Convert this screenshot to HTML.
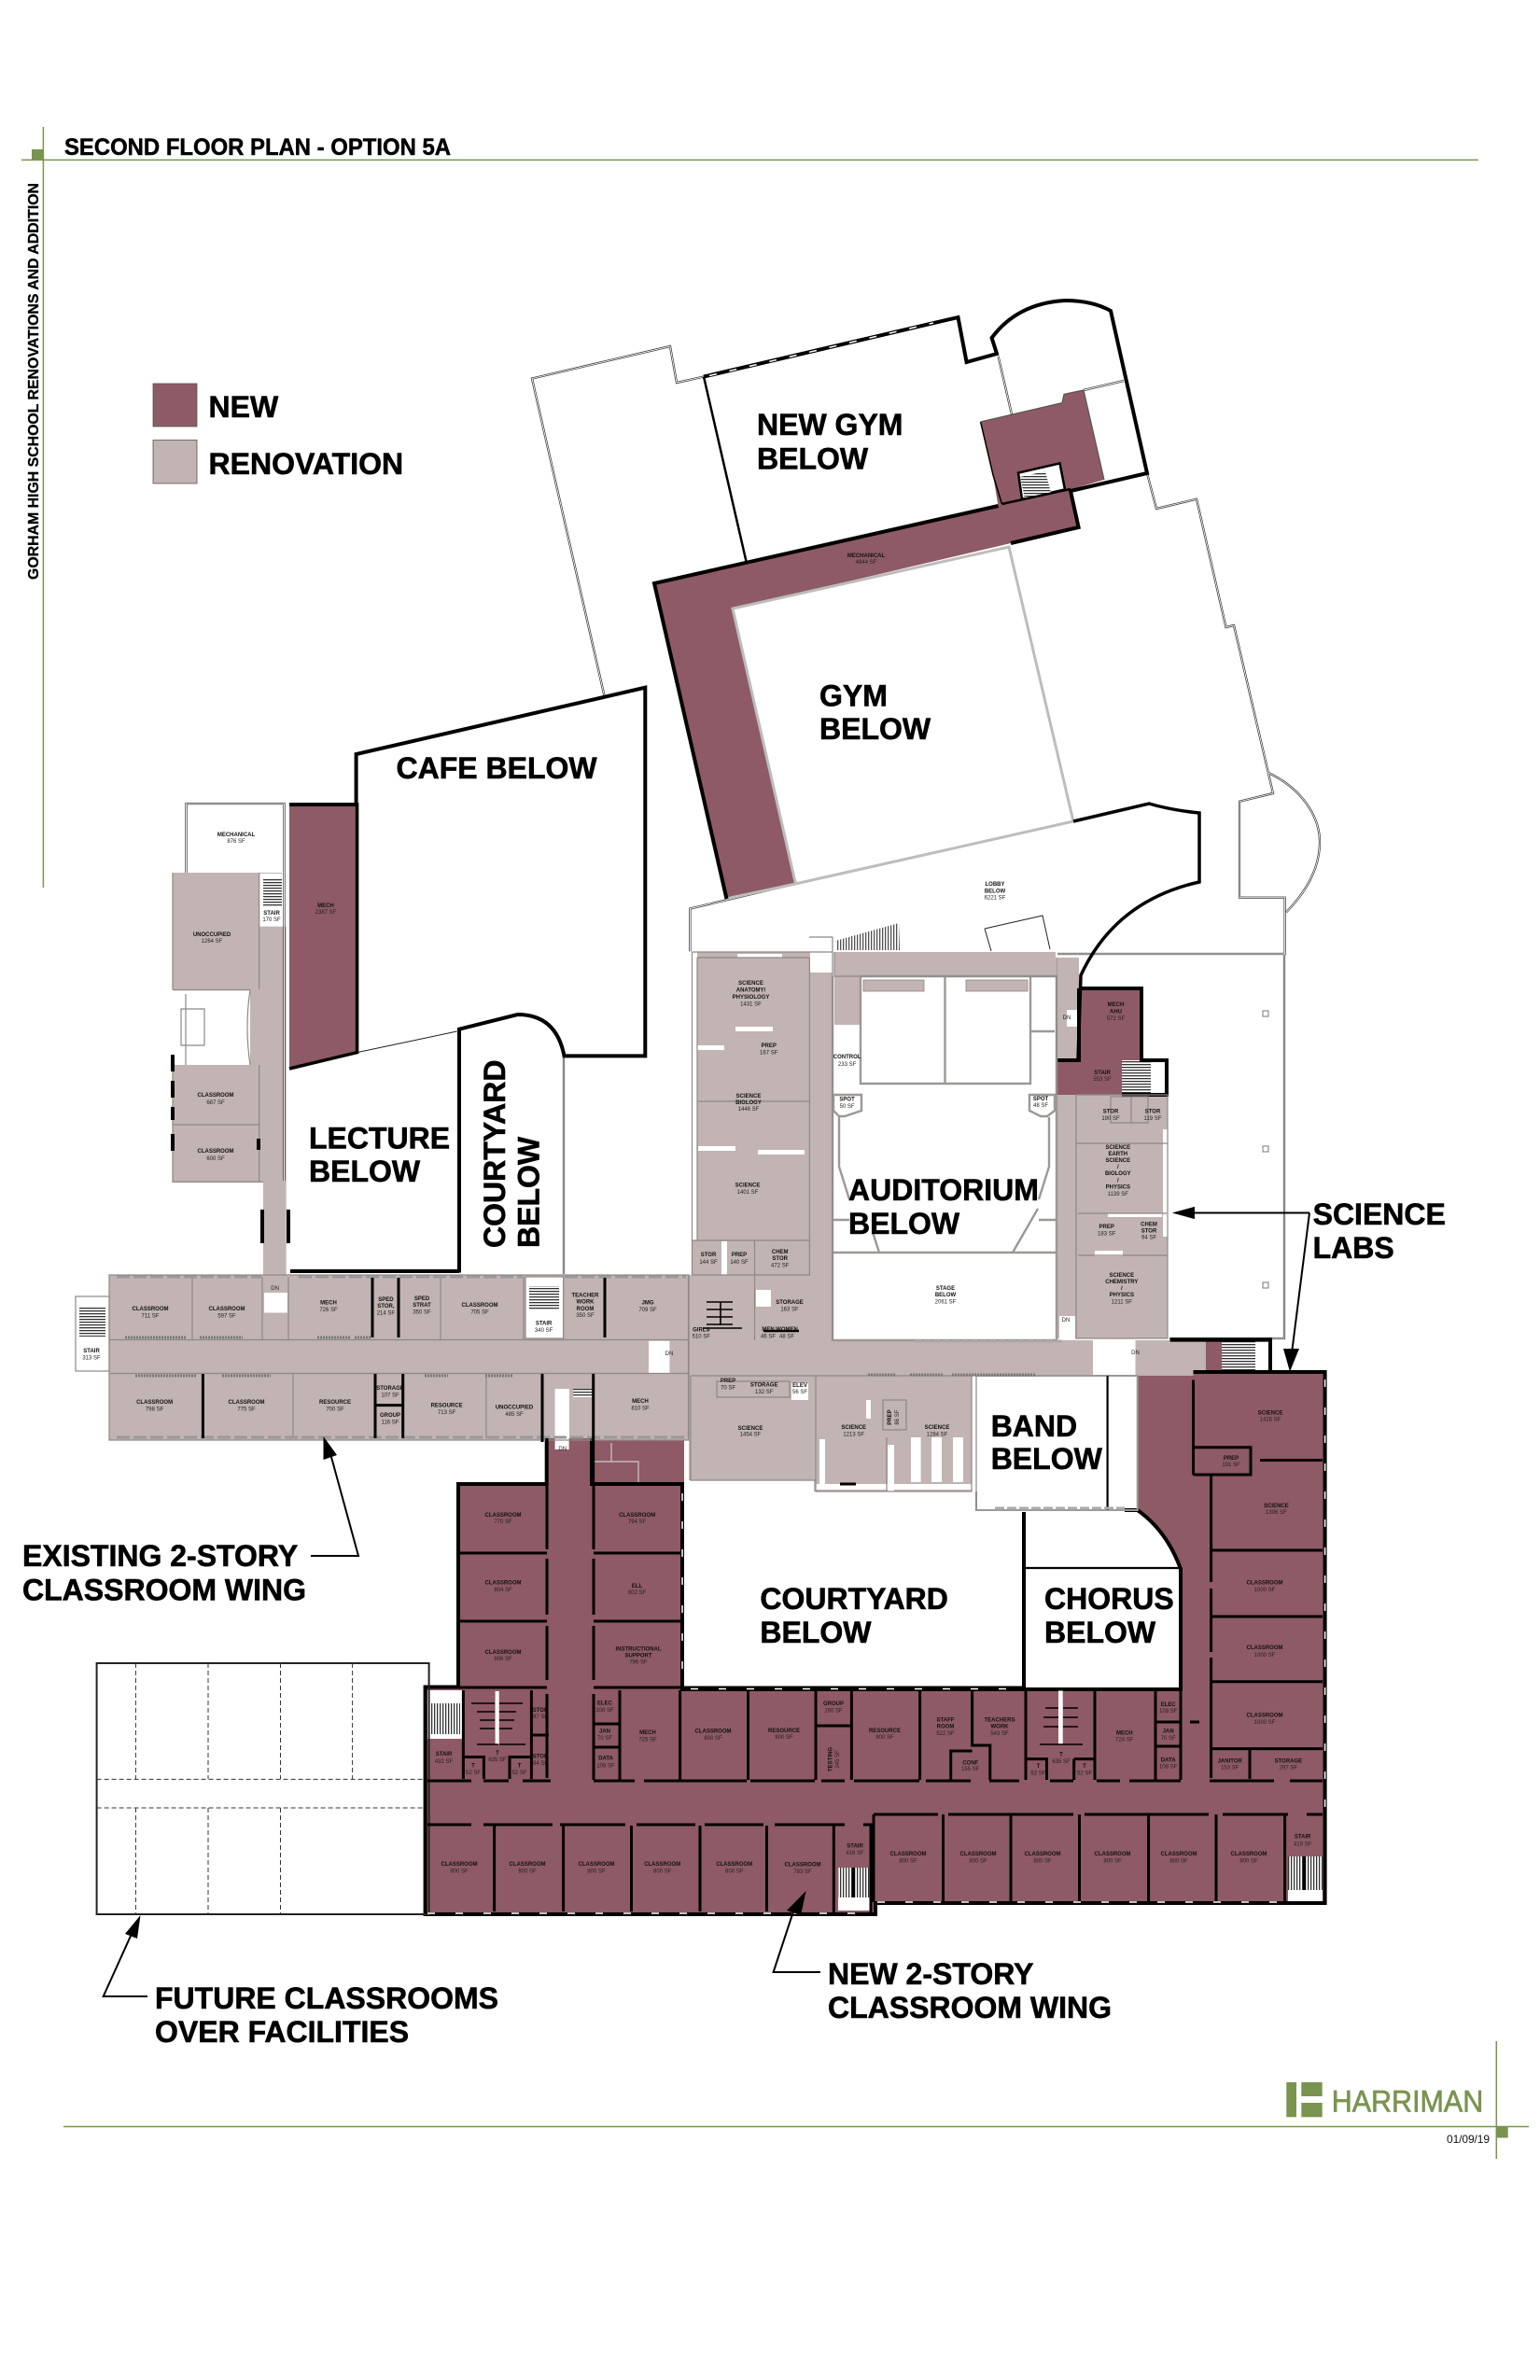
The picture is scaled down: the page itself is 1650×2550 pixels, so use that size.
<!DOCTYPE html>
<html><head><meta charset="utf-8"><title>Second Floor Plan - Option 5A</title>
<style>
html,body{margin:0;padding:0;background:#fff}
svg{display:block}
text{font-family:"Liberation Sans",Arial,sans-serif}
.b{font-size:32px;font-weight:bold;fill:#000;stroke:#000;stroke-width:.6px}
.n{font-size:6px;font-weight:bold;fill:#111;text-anchor:middle}
.a{font-size:6px;fill:#222;text-anchor:middle}
.w{fill:none;stroke:#000;stroke-width:4;stroke-linejoin:miter}
.g{fill:none;stroke:#8e8886;stroke-width:1.2}
.l{fill:none;stroke:#000;stroke-width:2.2}
.l3{fill:none;stroke:#000;stroke-width:3}
.wh{fill:#fff}
</style></head><body>
<svg xmlns="http://www.w3.org/2000/svg" width="1650" height="2550" viewBox="0 0 1650 2550">
<defs>
<pattern id="tr" width="6" height="3" patternUnits="userSpaceOnUse"><rect width="6" height="3" fill="#fff"/><rect width="6" height="1.3" fill="#333"/></pattern>
<pattern id="tv" width="3" height="6" patternUnits="userSpaceOnUse"><rect width="3" height="6" fill="#fff"/><rect width="1.3" height="6" fill="#333"/></pattern>
<g id="thin" fill="none">
<path d="M647.6 746L570 405.6L718 371L725 410L754 403.6"/>
<path d="M1229 507L1239 545L1282 534.7L1313.5 672L1322 670L1364 850L1328 858.7V961.7H1376.6V1022H1133"/>
<path d="M1359 828C1395 845 1414 875 1414 902C1414 930 1400 955 1378 977.5"/>
<path d="M739.4 1019.4V973.5L852 947"/>
<path d="M1376 1022V1434H1253"/>
<path d="M1161 418L1204 408"/>
<path d="M1069.5 381.6L1084 444"/>
<path d="M604 1131V1365"/>
<path d="M199.5 935V861H304.5V1265"/>
</g>
</defs>

<!-- frame -->
<g stroke="#7a9450" fill="none" stroke-width="1.5">
<path d="M23 171.4H1584"/><path d="M46.4 136V951"/>
<path d="M68 2278.5H1638"/><path d="M1603.3 2187V2313"/>
</g>
<rect x="34" y="160" width="12" height="11" fill="#7a9450"/>
<rect x="1604" y="2279" width="11.7" height="11.5" fill="#7a9450"/>
<text x="69" y="166" font-size="25" font-weight="bold" stroke="#000" stroke-width=".5" textLength="414" lengthAdjust="spacingAndGlyphs">SECOND FLOOR PLAN - OPTION 5A</text>
<text transform="translate(41,621) rotate(-90)" font-size="16" font-weight="bold" stroke="#000" stroke-width=".3" textLength="425" lengthAdjust="spacingAndGlyphs">GORHAM HIGH SCHOOL RENOVATIONS AND ADDITION</text>

<!-- legend -->
<rect x="164" y="411" width="47" height="46" fill="#8e5a65" stroke="#555" stroke-width=".8"/>
<rect x="164" y="471.5" width="47" height="46.5" fill="#c1b4b2" stroke="#555" stroke-width=".8"/>
<text class="b" x="223.5" y="447">NEW</text>
<text class="b" x="223.5" y="508">RENOVATION</text>

<!-- renovation fills -->
<g fill="#c1b4b2">
<path d="M185 935H302V992.7H306.7V1366H282V1266.4H185V1141H268V1060.6H185Z"/>
<rect x="117" y="1366" width="621" height="177"/>
<rect x="738" y="1366" width="134" height="220"/>
<rect x="741.5" y="1020" width="150" height="416"/>
<rect x="718" y="1436" width="573" height="38"/>
<rect x="872" y="1474" width="169.5" height="124"/>
<rect x="894" y="1020" width="237" height="26"/>
<rect x="894" y="1046" width="28" height="52"/>
<rect x="1132" y="1026" width="24" height="110"/>
<rect x="1132" y="1173" width="119" height="261"/>
</g>
<!-- white holes in renovation -->
<g class="wh">
<rect x="277.7" y="936" width="24.5" height="56.7"/>
<rect x="283" y="1385" width="25" height="21.5"/>
<rect x="563" y="1368" width="40.6" height="66"/>
<rect x="81" y="1389" width="36" height="80"/>
<rect x="695" y="1436.7" width="22.4" height="34.3"/>
<rect x="594.6" y="1488" width="15.4" height="64.5"/>
<rect x="1171" y="1436" width="45.5" height="38"/>
<rect x="868" y="1004" width="24" height="38"/>
<rect x="742" y="1020" width="5" height="309"/>
<rect x="1143" y="1082" width="13" height="18"/>
<rect x="1135" y="1410" width="17" height="24"/>
<rect x="848" y="1482" width="18" height="18"/>
<rect x="810" y="1382" width="16" height="18"/>
<rect x="894" y="1098" width="28" height="68"/>
<rect x="976" y="1540" width="10.6" height="48"/>
<rect x="998" y="1540" width="11" height="48"/>
<rect x="1021" y="1540" width="11" height="48"/>
<rect x="928" y="1500" width="5" height="20"/>
<rect x="951" y="1548" width="7" height="50"/>
<rect x="878" y="1542" width="6" height="50"/>
<rect x="874" y="1590" width="167" height="6"/>
<rect x="788" y="1100" width="40" height="5"/>
<rect x="742" y="1120" width="34" height="5"/>
<rect x="748" y="1228" width="40" height="5"/>
<rect x="812" y="1232" width="50" height="5"/>
<rect x="790" y="1022" width="48" height="4"/>
<rect x="1187" y="1300" width="58" height="4"/>
<rect x="1173" y="1340" width="30" height="6"/>
<rect x="1246" y="1210" width="5" height="115"/>
<rect x="773" y="1330" width="6" height="36"/>
</g>
<!-- stair treads -->
<rect x="282" y="942" width="20" height="30" fill="url(#tr)"/>
<rect x="85" y="1400" width="28" height="32" fill="url(#tr)"/>
<rect x="567" y="1378" width="32" height="26" fill="url(#tr)"/>
<rect x="614" y="1488" width="20" height="9" fill="url(#tr)"/>
<path d="M895 1008L963 989L964 1018H897Z" fill="url(#tv)" opacity=".85"/>

<!-- maroon fills -->
<g fill="#8e5a65">
<path d="M310 862H382.6V1127.6L310 1145Z"/>
<path d="M701 625L1069.5 542L1064 509L1050.6 452L1138 431.6L1140 422.4L1161 418L1183 514L1147 524.5L1155.6 565L1083 582L785 652L852.5 947L778.5 963Z"/>
<path d="M588 1541H634V1543H733V1590H731V1810H1265V1681Q1250 1640 1218.7 1618V1474H1278.5V1470H1419.6V2039H938V2051H455.6V1807.5H491V1590H586V1541Z"/>
<rect x="1156" y="1059" width="67" height="77"/>
<rect x="1132" y="1136" width="70" height="37"/>
<rect x="1291.5" y="1436" width="18" height="34"/>
</g>
<!-- maroon whites and stairs -->
<path d="M1091 506.6L1135.5 496.4L1141 524.5L1095 534.7Z" fill="#fff" stroke="#000" stroke-width="2.5"/>
<path d="M1093 511L1120 505L1126 528L1098 534Z" fill="url(#tr)"/>
<rect x="458" y="1811" width="38" height="52" fill="#fff"/>
<rect x="461" y="1825" width="32" height="33" fill="url(#tv)"/>
<rect x="898" y="2001" width="33.6" height="44" fill="url(#tv)"/>
<rect x="1380" y="1989" width="37" height="46" fill="url(#tv)"/>
<rect x="913" y="2001" width="3" height="38" fill="#000"/>
<rect x="1396" y="1989" width="3" height="38" fill="#000"/>
<rect x="898" y="2033" width="34" height="14" fill="#fff"/>
<rect x="1380" y="2025" width="37" height="12" fill="#fff"/>
<rect x="1202" y="1136" width="31" height="37" fill="url(#tr)"/>
<rect x="1233" y="1136" width="17" height="37" fill="#fff"/>
<rect x="1309" y="1436" width="36" height="34" fill="url(#tr)"/>
<rect x="1345" y="1436" width="16" height="34" fill="#fff"/>
<rect x="594.6" y="1541" width="15" height="12" fill="#fff"/>
<path d="M655 1546V1566M637 1566H684V1590" stroke="#c9b8bb" stroke-width="1.4" fill="none"/>

<!-- thin double outlines -->
<use href="#thin" stroke="#222" stroke-width="2.2"/>
<use href="#thin" stroke="#fff" stroke-width=".9"/>
<path d="M382.6 1127.6L489.7 1105" stroke="#222" stroke-width="1" fill="none"/>
<path d="M1055 995L1117 981L1125 1017M1055 995L1062 1019" stroke="#222" stroke-width="1" fill="none"/>
<rect x="1353" y="1083" width="6" height="6" fill="none" stroke="#777"/>
<rect x="1353" y="1228" width="6" height="6" fill="none" stroke="#777"/>
<rect x="1353" y="1374" width="6" height="6" fill="none" stroke="#777"/>

<!-- gym inner grey walls -->
<path d="M778 963L852.5 947L785 652L1081 586L1150 880L852 947" fill="none" stroke="#bdbdbd" stroke-width="3"/>

<!-- thick black building outlines -->
<g class="w">
<path d="M754 403.6L1026.5 340L1035.6 388L1068 379L1062.6 362Q1090 325 1141 322Q1170 322 1190 333L1229 507L1147 526L1155.6 565L1083 582"/>
<path d="M754 403.6L800 603.6" stroke-width="2.5"/>
<path d="M1069.5 542L701 625L778.5 963"/>
<path d="M1073.5 540L1147 524" stroke-width="2.5"/>
<path d="M1050.6 452L1064 509L1073.5 540" stroke-width="1.5"/>
<path d="M1050.6 452L1138 431.6L1140 422.4L1161 418L1183 514" stroke="#555" stroke-width="1.2"/>
<path d="M1150 880L1231 861Q1255 868 1285 871V945Q1195 965 1158 1045L1155 1136" stroke-width="3.5"/>
<path d="M310 862H381.6V808L691.3 736.7V1131.4H604.5Q596 1087 554.5 1087L492 1102.7V1363.5"/>
<path d="M382.6 860V1127.6L310 1145" stroke-width="3.5"/>
<path d="M311 1362H492" stroke-width="4"/>
<path d="M1156 1059H1223V1136H1250V1173H1202M1156 1059V1136H1132"/>
<path d="M1253.6 1435.6H1361V1470"/>
<path d="M1278.5 1470H1419.6V2039H938V2051H455.6V1807.5H491V1590H585.7V1541M634 1541V1590H731V1810H1097V1620"/>
<path d="M1097 1810H1265V1681Q1250 1640 1218.7 1618H1205"/>
</g>
<path d="M760 402.5L1000 346" stroke="#fff" stroke-width="1.5" stroke-dasharray="8 14" fill="none"/>
<path d="M1097 1680H1264" class="l"/>
<rect x="103.6" y="1782" width="356" height="269" fill="none" stroke="#222" stroke-width="2"/>
<g stroke="#333" stroke-width="1" stroke-dasharray="5 3" fill="none">
<path d="M145.4 1782V1906M223 1782V1906M300.5 1782V1906M377.6 1782V1906"/>
<path d="M145.4 1937V2051M223 1937V2051M300.5 1937V2051"/>
<path d="M103.6 1906.4H455M103.6 1937H455"/>
</g>
<!-- band walls -->
<path d="M1046 1474H1218.7V1618H1046V1598" fill="none" stroke="#999" stroke-width="2"/>
<path d="M1186.6 1474V1618" class="l"/>
<path d="M1066 1616H1205" stroke="#aaa" stroke-width="3" stroke-dasharray="10 3" fill="none"/>

<!-- auditorium -->
<g fill="none" stroke="#9c9896" stroke-width="2.4">
<path d="M892 1046V1436H1132V1046H922V1161H1104V1046"/>
<path d="M1012.5 1046V1161"/>
<path d="M893 1342H1131"/>
<path d="M1104 1105H1130"/>
<path d="M893 1307H910M1113 1307H1131"/>
<path d="M899 1197V1250L910 1285M1124 1197V1250L1113 1285"/>
<path d="M935 1320L942 1342M1112 1295L1085 1342"/>
<path d="M893 1173H923V1190L905 1196H899L893 1190ZM1103 1173H1130V1190L1122 1196H1115L1103 1190Z"/>
</g>
<g fill="#c1b4b2" stroke="#8e8886" stroke-width=".8">
<rect x="925" y="1050" width="65" height="12"/>
<rect x="1035" y="1050" width="66" height="12"/>
</g>
<path d="M980 1437H1038M1040 1437H1140" stroke="#aaa" stroke-width="3" stroke-dasharray="8 2" fill="none"/>

<!-- renovation walls -->
<g class="g">
<path d="M185 935V1060.6M185 1141V1266.4H282M185 1205H277.7M277.7 1141V1266M185 1060.6H268M277.7 935V1060"/>
<path d="M268 1060.6Q262 1100 268 1141"/>
<path d="M199 1065V1141M194 1081H219V1120H194Z"/>
<rect x="117" y="1366" width="621" height="177"/>
<path d="M117 1435.5H738M117 1471.5H738"/>
<path d="M206 1368V1435M281 1368V1435M309 1368V1435M472 1368V1435M561 1368V1435M603.6 1368V1435M314 1472V1541M521 1472V1541M737.5 1368V1541"/>
<rect x="81" y="1389" width="36" height="80"/>
<rect x="563" y="1368" width="40.6" height="66"/>
<path d="M741.5 1020V1366H867.4V1026M747 1026V1329H867M747 1026H867M747 1180H867M867 1004H892V1436M892 1020H741.5M808.5 1329V1436M741 1329H808M1153 1173V1434H1251V1173H1153M1153 1225H1251M1155 1300H1250M1155 1345H1250M1132 1026V1173M1190 1175H1230V1203H1190ZM1212 1203V1175M894 1020V1046H1131"/>
<path d="M740 1474H1041V1598H874V1586H740V1474M874 1474V1590M950 1598V1540M1041 1474H1046V1618"/>
<path d="M768 1480H846V1497H768ZM946 1500H971V1532H946Z"/>
</g>
<path d="M125 1368H280M320 1368H560M605 1368H735M125 1540H735" stroke="#999" stroke-width="3" stroke-dasharray="14 4" fill="none"/>
<path d="M134 1433H200M214 1433H260M340 1433H375M380 1433H398M145 1474H210M238 1474H290M455 1474H480M520 1474H550M930 1473H960M975 1473H1010M1020 1473H1110" stroke="#777" stroke-width="3" stroke-dasharray="2 1" fill="none"/>
<g class="l">
<path d="M399 1369V1433M427 1369V1433M648 1369V1433M217.4 1472V1541M402 1472V1541M431.7 1472V1541M581 1472V1545M635.7 1472V1590M402 1505.6H431" stroke-width="3"/>
<path d="M185 1130V1200M185 1215V1240M277 1220V1232" stroke-width="4" stroke-dasharray="18 10"/>
<path d="M281 1296V1332M309 1296V1332" stroke-width="4"/>
<path d="M772 1395V1420M757 1395H785M757 1403H785M757 1411H785M757 1419H785" stroke-width="1.6"/>
<path d="M753 1423H795" stroke-width="1.6"/>
<path d="M818 1426H856" stroke-width="2.5"/>
<path d="M900 1590H917" stroke-width="3"/>
</g>

<!-- south wing walls -->
<g class="l3">
<path d="M586 1541V1660M586 1670V1730M586 1742V1800M586 1815V1905"/>
<path d="M636 1590V1660M636 1670V1730M636 1742V1800M636 1815V1907"/>
<path d="M491 1664H586M491 1737H586M491 1808H586M636 1664H731M636 1737H731M636 1808H1097"/>
<path d="M458 1908H505M518 1908H545M560 1908H590M636 1908H680M690 1908H800M804 1908H873M880 1908H905M915 1908H985M992 1908H1040M1060 1908H1092M1125 1908H1150M1175 1908H1200M1210 1908H1265M1296 1908H1365M1382 1908H1417"/>
<path d="M458 1955H505M518 1955H592M600 1955H670M682 1955H745M755 1955H818M830 1955H905M925 1955H936M936 1944H1005M1016 1944H1150M1162 1944H1295M1310 1944H1380M1400 1944H1417"/>
<path d="M529.6 1956V2048M603.6 1956V2048M676.5 1956V2048M750 1956V2048M821.5 1956V2048M893.3 1955V2050M933 1955V2050M936 1944V2038M1010.5 1944V2037M1083 1944V2037M1156.5 1944V2037M1230.6 1944V2037M1303 1944V2037M1376.6 1944V2037"/>
<path d="M664 1811V1907M636 1847H664M636 1872H664M728.6 1811V1907M801.5 1811V1907M874 1811V1907M912.4 1811V1907M874 1849H912.4M985.6 1811V1907M1041.6 1811V1870H1060.8V1907M1018.7 1907V1876H1041.6M1099 1811V1907M1173 1811V1907M1238 1811V1907M1265 1810V1907M1238 1845H1265M1238 1871H1265"/>
<path d="M1100.5 1884.6H1121.5V1907M1150.7 1884.6V1907M1150.7 1884.6H1173"/>
<path d="M496.4 1811V1906M569.4 1811V1906M569.4 1859H588M496.4 1882.5H518.4V1906M546 1906V1882.5H569.4"/>
<path d="M1278.5 1478.5V1580M1278.5 1550.7H1340V1580H1278.5M1350 1564.5H1417M1340 1566V1570M1297.6 1580V1695M1297.6 1702V1770M1297.6 1776V1905"/>
<path d="M1297 1661H1417M1297 1732H1417M1297 1801.7H1417M1297 1873.6H1417M1339 1873.6V1906"/>
<path d="M1275 1845H1285"/>
</g>
<g stroke="#fff" fill="none" stroke-width="1.5" stroke-dasharray="8 22">
<path d="M1419.6 1478V1940"/>
<path d="M731 1600V1800"/>
<path d="M740 1809.5H1090"/>
<path d="M458 2050H930"/>
<path d="M940 2038H1376"/>
</g>
<rect x="530.6" y="1812" width="4.1" height="57" fill="#fff"/>
<rect x="1134" y="1811.5" width="4.7" height="57.5" fill="#fff"/>
<g fill="none" stroke="#000" stroke-width="1.5">
<path d="M505 1825H530M511 1834H530M514 1843H530M514 1852H530M511 1869H534M535 1825H560M535 1834H553M535 1843H551M535 1852H549M535 1869H563"/>
<path d="M1120 1830H1134M1118 1840H1134M1118 1850H1134M1114 1869H1160M1139 1830H1155M1139 1840H1155M1139 1850H1155"/>
</g>

<!-- annotation arrows -->
<g fill="none" stroke="#000" stroke-width="2">
<path d="M1403 1299.5H1280"/><path d="M1403 1299.5L1384 1450"/>
<path d="M333 1667H384L353.6 1556"/>
<path d="M158 2139H110.7L141 2072"/>
<path d="M879 2113H828.6L851 2045"/>
</g>
<g fill="#000">
<path d="M1255.8 1299.5L1280 1292.9V1306.1Z"/>
<path d="M1382 1469.6L1375 1445H1392Z"/>
<path d="M346.5 1539L346.5 1564L361 1559Z"/>
<path d="M150.5 2052L134 2072L147 2077Z"/>
<path d="M863.6 2026L843 2047L858 2052Z"/>
</g>

<!-- big labels -->
<g class="b">
<text x="811" y="466">NEW GYM</text><text x="811" y="502.5">BELOW</text>
<text x="878" y="756.6">GYM</text><text x="878" y="792">BELOW</text>
<text x="424.5" y="834">CAFE BELOW</text>
<text x="331" y="1230.5">LECTURE</text><text x="331" y="1266">BELOW</text>
<text transform="translate(541,1337) rotate(-90)">COURTYARD</text>
<text transform="translate(577.7,1337) rotate(-90)">BELOW</text>
<text x="909" y="1286">AUDITORIUM</text><text x="909" y="1322">BELOW</text>
<text x="1406.6" y="1312">SCIENCE</text><text x="1406.6" y="1348">LABS</text>
<text x="1061.7" y="1538.8">BAND</text><text x="1061.7" y="1574">BELOW</text>
<text x="814.4" y="1723.8">COURTYARD</text><text x="814.4" y="1760">BELOW</text>
<text x="1119" y="1723.8">CHORUS</text><text x="1119" y="1760">BELOW</text>
<text x="24" y="1678">EXISTING 2-STORY</text><text x="24" y="1714.6">CLASSROOM WING</text>
<text x="166" y="2152">FUTURE CLASSROOMS</text><text x="166" y="2188">OVER FACILITIES</text>
<text x="887" y="2126">NEW 2-STORY</text><text x="887" y="2162">CLASSROOM WING</text>
</g>

<!-- small labels: existing wing -->
<g>
<text class="n" x="253" y="896">MECHANICAL</text><text class="a" x="253" y="903">876 SF</text>
<text class="n" x="349" y="972">MECH</text><text class="a" x="349" y="979">2387 SF</text>
<text class="n" x="291" y="980">STAIR</text><text class="a" x="291" y="987">170 SF</text>
<text class="n" x="227" y="1003">UNOCCUPIED</text><text class="a" x="227" y="1010">1264 SF</text>
<text class="n" x="231" y="1175">CLASSROOM</text><text class="a" x="231" y="1183">687 SF</text>
<text class="n" x="231" y="1235">CLASSROOM</text><text class="a" x="231" y="1243">600 SF</text>
<text class="n" x="161" y="1404">CLASSROOM</text><text class="a" x="161" y="1411.5">711 SF</text>
<text class="n" x="243" y="1404">CLASSROOM</text><text class="a" x="243" y="1411.5">597 SF</text>
<text class="n" x="352" y="1397.5">MECH</text><text class="a" x="352" y="1405">726 SF</text>
<text class="n" x="413.4" y="1394">SPED</text><text class="n" x="413.4" y="1401">STOR,</text><text class="a" x="413.4" y="1408.5">214 SF</text>
<text class="n" x="452" y="1393">SPED</text><text class="n" x="452" y="1400">STRAT</text><text class="a" x="452" y="1407.5">350 SF</text>
<text class="n" x="514" y="1400">CLASSROOM</text><text class="a" x="514" y="1407.5">705 SF</text>
<text class="n" x="582.6" y="1419.5">STAIR</text><text class="a" x="582.6" y="1427">340 SF</text>
<text class="n" x="627" y="1389.5">TEACHER</text><text class="n" x="627" y="1396.6">WORK</text><text class="n" x="627" y="1404">ROOM</text><text class="a" x="627" y="1411">350 SF</text>
<text class="n" x="694" y="1397.5">JMG</text><text class="a" x="694" y="1405">709 SF</text>
<text class="n" x="98" y="1449">STAIR</text><text class="a" x="98" y="1456.5">313 SF</text>
<text class="n" x="165.6" y="1504">CLASSROOM</text><text class="a" x="165.6" y="1511.5">798 SF</text>
<text class="n" x="264" y="1504">CLASSROOM</text><text class="a" x="264" y="1511.5">775 SF</text>
<text class="n" x="359" y="1504">RESOURCE</text><text class="a" x="359" y="1511.5">700 SF</text>
<text class="n" x="418" y="1489">STORAGE</text><text class="a" x="418" y="1496.5">107 SF</text>
<text class="n" x="418" y="1518">GROUP</text><text class="a" x="418" y="1525.5">116 SF</text>
<text class="n" x="478.6" y="1507.6">RESOURCE</text><text class="a" x="478.6" y="1515">713 SF</text>
<text class="n" x="551" y="1509.5">UNOCCUPIED</text><text class="a" x="551" y="1517">485 SF</text>
<text class="n" x="686" y="1503">MECH</text><text class="a" x="686" y="1510.5">810 SF</text>
<text class="a" x="294.6" y="1382">DN</text><text class="a" x="602.7" y="1554">DN</text>
<text class="n" x="928" y="597">MECHANICAL</text><text class="a" x="928" y="604">4944 SF</text>
<text class="n" x="1066" y="949">LOBBY</text><text class="n" x="1066" y="956.6">BELOW</text><text class="a" x="1066" y="963.7">6221 SF</text>
<!-- science block -->
<text class="n" x="804.5" y="1055">SCIENCE</text><text class="n" x="804.5" y="1062.5">ANATOMY/</text><text class="n" x="804.5" y="1070">PHYSIOLOGY</text><text class="a" x="804.5" y="1077.5">1431 SF</text>
<text class="n" x="823.7" y="1122">PREP</text><text class="a" x="823.7" y="1129.7">167 SF</text>
<text class="n" x="802" y="1175.8">SCIENCE</text><text class="n" x="802" y="1183">BIOLOGY</text><text class="a" x="802" y="1190">1446 SF</text>
<text class="n" x="801" y="1271.6">SCIENCE</text><text class="a" x="801" y="1279">1401 SF</text>
<text class="n" x="759" y="1346">STOR</text><text class="a" x="759" y="1354">144 SF</text>
<text class="n" x="792" y="1346">PREP</text><text class="a" x="792" y="1354">140 SF</text>
<text class="n" x="835.7" y="1343">CHEM</text><text class="n" x="835.7" y="1350">STOR</text><text class="a" x="835.7" y="1357.5">472 SF</text>
<text class="n" x="846" y="1397">STORAGE</text><text class="a" x="846" y="1404.4">163 SF</text>
<text class="n" x="751.3" y="1426.4">GIRLS</text><text class="a" x="751.3" y="1433.5">510 SF</text>
<text class="n" x="823" y="1426">MEN</text><text class="a" x="823" y="1433.5">46 SF</text>
<text class="n" x="843" y="1426">WOMEN</text><text class="a" x="843" y="1433.5">48 SF</text>
<text class="n" x="907.6" y="1134">CONTROL</text><text class="a" x="907.6" y="1142">233 SF</text>
<text class="n" x="907.6" y="1179.5">SPOT</text><text class="a" x="907.6" y="1187">50 SF</text>
<text class="n" x="1115" y="1179">SPOT</text><text class="a" x="1115" y="1186">48 SF</text>
<text class="n" x="1013" y="1382">STAGE</text><text class="n" x="1013" y="1389">BELOW</text><text class="a" x="1013" y="1396.5">2061 SF</text>
<text class="n" x="1195.5" y="1078">MECH</text><text class="n" x="1195.5" y="1085.7">AHU</text><text class="a" x="1195.5" y="1093">572 SF</text>
<text class="a" x="1143" y="1092">DN</text>
<text class="n" x="1181" y="1151">STAIR</text><text class="a" x="1181" y="1158">553 SF</text>
<text class="n" x="1190" y="1192.4">STOR</text><text class="a" x="1190" y="1200">190 SF</text>
<text class="n" x="1235" y="1192.4">STOR</text><text class="a" x="1235" y="1200">119 SF</text>
<text class="n" x="1197.8" y="1231">SCIENCE</text><text class="n" x="1197.8" y="1238">EARTH</text><text class="n" x="1197.8" y="1245">SCIENCE</text><text class="n" x="1197.8" y="1252">/</text><text class="n" x="1197.8" y="1259">BIOLOGY</text><text class="n" x="1197.8" y="1266.6">/</text><text class="n" x="1197.8" y="1273.7">PHYSICS</text><text class="a" x="1197.8" y="1281">1139 SF</text>
<text class="n" x="1185.7" y="1316">PREP</text><text class="a" x="1185.7" y="1323.5">183 SF</text>
<text class="n" x="1231" y="1313.5">CHEM</text><text class="n" x="1231" y="1320.6">STOR</text><text class="a" x="1231" y="1327.6">94 SF</text>
<text class="n" x="1201.8" y="1368">SCIENCE</text><text class="n" x="1201.8" y="1375">CHEMISTRY</text><text class="n" x="1201.8" y="1382">/</text><text class="n" x="1201.8" y="1389">PHYSICS</text><text class="a" x="1201.8" y="1396.5">1211 SF</text>
<text class="a" x="1142" y="1416">DN</text><text class="a" x="1216.5" y="1451">DN</text><text class="a" x="717" y="1452">DN</text>
<text class="n" x="780" y="1481">PREP</text><text class="a" x="780" y="1488.6">70 SF</text>
<text class="n" x="818.7" y="1485.7">STORAGE</text><text class="a" x="818.7" y="1493">132 SF</text>
<text class="n" x="857" y="1486">ELEV</text><text class="a" x="857" y="1493">56 SF</text>
<text class="n" x="804" y="1532">SCIENCE</text><text class="a" x="804" y="1538.4">1454 SF</text>
<text class="n" x="914.7" y="1531">SCIENCE</text><text class="a" x="914.7" y="1538.4">1213 SF</text>
<text class="n" x="1004" y="1531">SCIENCE</text><text class="a" x="1004" y="1538.4">1284 SF</text>
<text class="n" transform="translate(955,1518.6) rotate(-90)">PREP</text><text class="a" transform="translate(963,1518.6) rotate(-90)">86 SF</text>
<text class="n" x="1361" y="1515.6">SCIENCE</text><text class="a" x="1361" y="1522.6">1416 SF</text>
<text class="n" x="1319" y="1564">PREP</text><text class="a" x="1319" y="1571">191 SF</text>
<text class="n" x="1367.4" y="1615">SCIENCE</text><text class="a" x="1367.4" y="1622">1306 SF</text>
<!-- new wing -->
<text class="n" x="539" y="1625">CLASSROOM</text><text class="a" x="539" y="1632">770 SF</text>
<text class="n" x="682.6" y="1625">CLASSROOM</text><text class="a" x="682.6" y="1632">794 SF</text>
<text class="n" x="539" y="1697.7">CLASSROOM</text><text class="a" x="539" y="1705">804 SF</text>
<text class="n" x="682.6" y="1701">ELL</text><text class="a" x="682.6" y="1708">802 SF</text>
<text class="n" x="539" y="1772">CLASSROOM</text><text class="a" x="539" y="1779">806 SF</text>
<text class="n" x="684" y="1768.4">INSTRUCTIONAL</text><text class="n" x="684" y="1775.6">SUPPORT</text><text class="a" x="684" y="1782.7">796 SF</text>
<text class="n" x="648" y="1826.6">ELEC</text><text class="a" x="648" y="1834">108 SF</text>
<text class="n" x="648" y="1856.6">JAN</text><text class="a" x="648" y="1863.8">70 SF</text>
<text class="n" x="649" y="1885.6">DATA</text><text class="a" x="649" y="1893.4">108 SF</text>
<text class="n" x="694" y="1858">MECH</text><text class="a" x="694" y="1865.6">725 SF</text>
<text class="n" x="764" y="1856.3">CLASSROOM</text><text class="a" x="764" y="1863.8">800 SF</text>
<text class="n" x="840" y="1856">RESOURCE</text><text class="a" x="840" y="1863">800 SF</text>
<text class="n" x="579" y="1833.8">STOR</text><text class="a" x="579" y="1841">97 SF</text>
<text class="n" x="579" y="1883.4">STOR</text><text class="a" x="579" y="1891">94 SF</text>
<text class="n" x="533" y="1880">T</text><text class="a" x="533" y="1887">635 SF</text>
<text class="n" x="507" y="1893.4">T</text><text class="a" x="507" y="1901">52 SF</text>
<text class="n" x="556.6" y="1893.4">T</text><text class="a" x="556.6" y="1901">52 SF</text>
<text class="n" x="475.5" y="1881">STAIR</text><text class="a" x="475.5" y="1889">432 SF</text>
<text class="n" x="492" y="1999">CLASSROOM</text><text class="a" x="492" y="2006.6">800 SF</text>
<text class="n" x="565" y="1999">CLASSROOM</text><text class="a" x="565" y="2006.6">800 SF</text>
<text class="n" x="639" y="1999">CLASSROOM</text><text class="a" x="639" y="2006.6">800 SF</text>
<text class="n" x="709.7" y="1999">CLASSROOM</text><text class="a" x="709.7" y="2006.6">800 SF</text>
<text class="n" x="786.7" y="1999">CLASSROOM</text><text class="a" x="786.7" y="2006.6">800 SF</text>
<text class="n" x="860" y="1999.3">CLASSROOM</text><text class="a" x="860" y="2007">783 SF</text>
<text class="n" x="916" y="1979.5">STAIR</text><text class="a" x="916" y="1987">416 SF</text>
<text class="n" x="973" y="1988">CLASSROOM</text><text class="a" x="973" y="1995.4">800 SF</text>
<text class="n" x="1048" y="1988">CLASSROOM</text><text class="a" x="1048" y="1995.4">800 SF</text>
<text class="n" x="1117" y="1988">CLASSROOM</text><text class="a" x="1117" y="1995.4">800 SF</text>
<text class="n" x="1192" y="1988">CLASSROOM</text><text class="a" x="1192" y="1995.4">800 SF</text>
<text class="n" x="1263" y="1988">CLASSROOM</text><text class="a" x="1263" y="1995.4">800 SF</text>
<text class="n" x="1338" y="1988">CLASSROOM</text><text class="a" x="1338" y="1995.4">800 SF</text>
<text class="n" x="1395.7" y="1969.7">STAIR</text><text class="a" x="1395.7" y="1977.6">419 SF</text>
<text class="n" x="893" y="1827">GROUP</text><text class="a" x="893" y="1834.5">160 SF</text>
<text class="n" transform="translate(891.5,1885) rotate(-90)">TESTING</text><text class="a" transform="translate(899,1885) rotate(-90)">245 SF</text>
<text class="n" x="948" y="1856">RESOURCE</text><text class="a" x="948" y="1863">800 SF</text>
<text class="n" x="1013" y="1844.4">STAFF</text><text class="n" x="1013" y="1851.5">ROOM</text><text class="a" x="1013" y="1859">522 SF</text>
<text class="n" x="1071" y="1844.4">TEACHERS</text><text class="n" x="1071" y="1851.5">WORK</text><text class="a" x="1071" y="1859">543 SF</text>
<text class="n" x="1039.7" y="1890.6">CONF</text><text class="a" x="1039.7" y="1897">155 SF</text>
<text class="n" x="1137" y="1881.5">T</text><text class="a" x="1137" y="1889">635 SF</text>
<text class="n" x="1112.4" y="1893.8">T</text><text class="a" x="1112.4" y="1901.3">52 SF</text>
<text class="n" x="1162" y="1893.8">T</text><text class="a" x="1162" y="1901.3">52 SF</text>
<text class="n" x="1204.8" y="1858.6">MECH</text><text class="a" x="1204.8" y="1865.7">724 SF</text>
<text class="n" x="1251.7" y="1828">ELEC</text><text class="a" x="1251.7" y="1835">108 SF</text>
<text class="n" x="1251.7" y="1856.6">JAN</text><text class="a" x="1251.7" y="1864">70 SF</text>
<text class="n" x="1251.7" y="1887.5">DATA</text><text class="a" x="1251.7" y="1894.6">108 SF</text>
<text class="n" x="1317.7" y="1888.6">JANITOR</text><text class="a" x="1317.7" y="1895.7">153 SF</text>
<text class="n" x="1380.4" y="1888.6">STORAGE</text><text class="a" x="1380.4" y="1895.7">297 SF</text>
<text class="n" x="1355" y="1697.7">CLASSROOM</text><text class="a" x="1355" y="1705">1000 SF</text>
<text class="n" x="1355" y="1767">CLASSROOM</text><text class="a" x="1355" y="1774.8">1000 SF</text>
<text class="n" x="1355" y="1839.6">CLASSROOM</text><text class="a" x="1355" y="1847">1000 SF</text>
</g>

<!-- logo -->
<g fill="#7a9450">
<rect x="1378.3" y="2231" width="10.7" height="37.3"/>
<rect x="1394.3" y="2231" width="22.4" height="15"/>
<rect x="1394.3" y="2253" width="22.4" height="15.3"/>
<text x="1426.7" y="2262.3" font-size="32" stroke="#7a9450" stroke-width=".7" textLength="162.6" lengthAdjust="spacingAndGlyphs">HARRIMAN</text>
</g>
<text x="1550" y="2296" font-size="12" fill="#111" textLength="46">01/09/19</text>
</svg>
</body></html>
